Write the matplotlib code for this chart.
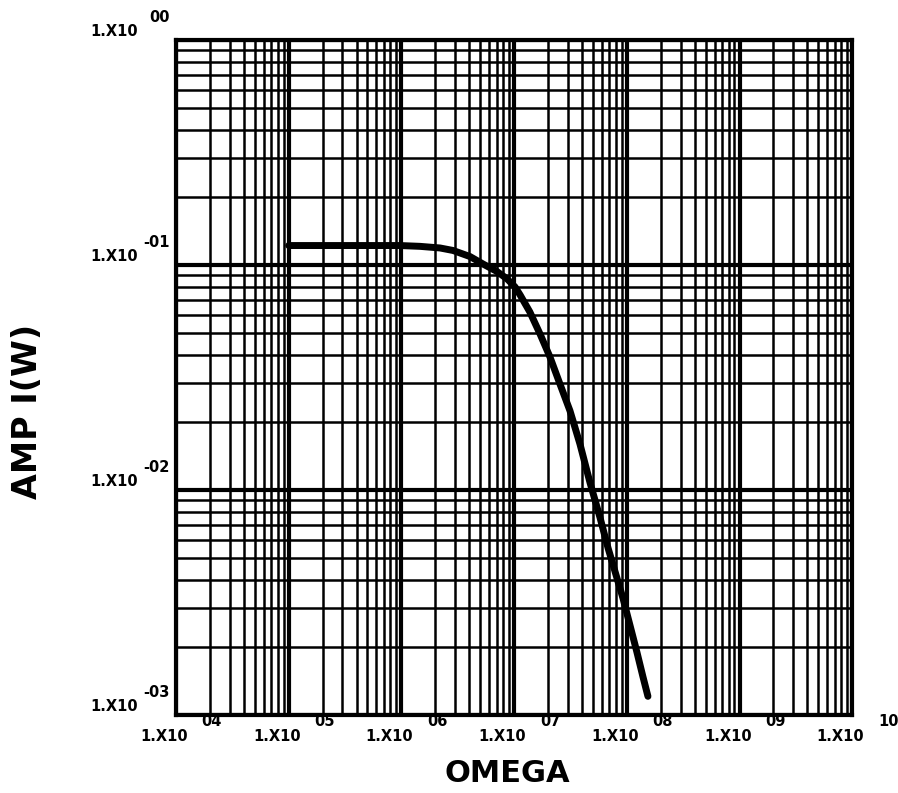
"""
Amplitude I(W) against omega, log-log plotter style chart
"""

import numpy as np
import matplotlib.pyplot as plt

#------------------------------------------------------------------------------
# data

omega = [1.0e5, 3.5e5, 9.7e5, 1.46e6, 2.20e6, 2.87e6, 4.06e6, 5.30e6,
         7.05e6, 8.65e6, 1.02e7, 1.13e7, 1.38e7, 1.70e7, 2.08e7,
         2.55e7, 3.13e7, 3.84e7, 4.71e7, 5.78e7, 6.81e7, 8.19e7,
         9.25e7, 1.07e8, 1.23e8, 1.39e8, 1.54e8]
amp = [0.122, 0.122, 0.122, 0.121, 0.119, 0.116, 0.109, 0.101,
       0.0935, 0.0868, 0.0798, 0.0736, 0.0618, 0.0493, 0.0390,
       0.0296, 0.0225, 0.0160, 0.0108, 0.00755, 0.00553, 0.00405,
       0.00330, 0.00249, 0.00190, 0.00148, 0.00121]

x_exps = ['04', '05', '06', '07', '08', '09', '10']
y_exps = ['00', '-01', '-02', '-03']

xlim = [1e4, 1e10]
ylim = [1e-3, 1e0]

#------------------------------------------------------------------------------

fig = plt.figure(figsize=(8.98, 7.93), dpi=100)
ax = fig.add_axes([0.196, 0.0984, 0.753, 0.8512])

ax.set_xscale('log')
ax.set_yscale('log')
ax.set_xlim(xlim)
ax.set_ylim(ylim)

ax.grid(which='major', color='black', lw=3.0)
ax.grid(which='minor', color='black', lw=1.8)
ax.tick_params(which='both', length=0, labelbottom=False, labelleft=False)
for s in ax.spines.values():
    s.set_linewidth(3)

ax.plot(omega, amp, color='black', lw=5, solid_capstyle='round',
        solid_joinstyle='round', zorder=5)

lab = dict(fontsize=10.5, fontweight='bold', family='DejaVu Sans')

# x tick labels: "1.X10" with exponent up right
for i, e in enumerate(x_exps):
    xv = 10.0**(4 + i)
    ax.annotate('1.X10', xy=(xv, 0), xycoords=('data', 'axes fraction'),
                xytext=(8.6, -15.8), textcoords='offset points',
                ha='right', va='center', annotation_clip=False, **lab)
    ax.annotate(e, xy=(xv, 0), xycoords=('data', 'axes fraction'),
                xytext=(18.5, -4.5), textcoords='offset points',
                ha='left', va='center', annotation_clip=False, **lab)

# y tick labels
for i, e in enumerate(y_exps):
    yv = 10.0**(-i)
    ax.annotate('1.X10', xy=(0, yv), xycoords=('axes fraction', 'data'),
                xytext=(-27.5, 6.0), textcoords='offset points',
                ha='right', va='center', annotation_clip=False, **lab)
    ax.annotate(e, xy=(0, yv), xycoords=('axes fraction', 'data'),
                xytext=(-4.5, 16.5), textcoords='offset points',
                ha='right', va='center', annotation_clip=False, **lab)

fig.text(507/898, 1 - 773/793, 'OMEGA', ha='center', va='center',
         fontsize=22, fontweight='bold')
fig.text(28/898, 1 - 411/793, 'AMP I(W)', ha='center', va='center',
         rotation=90, fontsize=24, fontweight='bold')

fig.savefig('out.png', dpi=100)
